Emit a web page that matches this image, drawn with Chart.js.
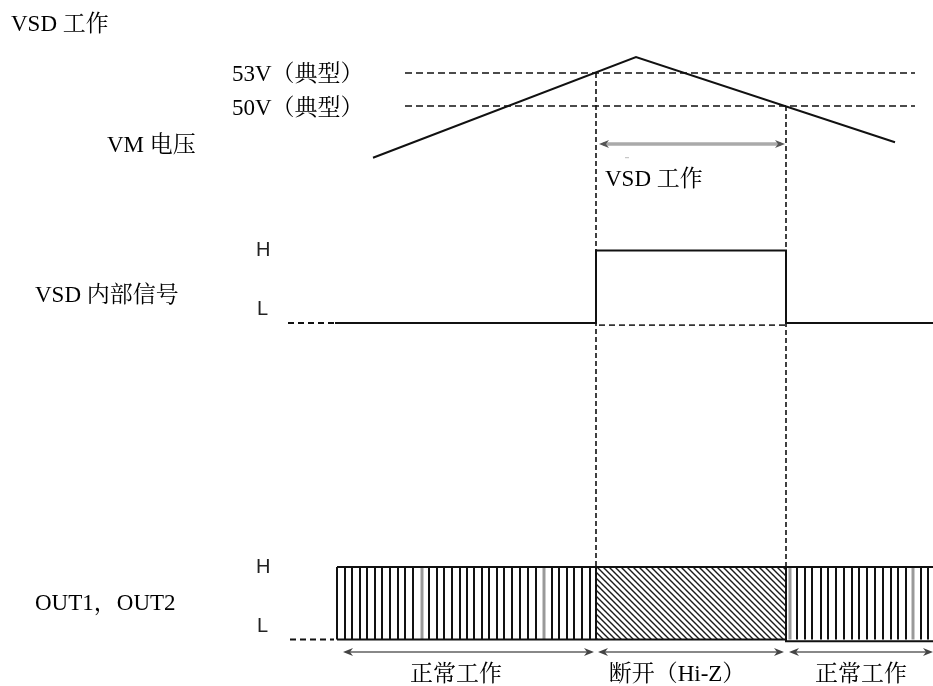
<!DOCTYPE html>
<html>
<head>
<meta charset="utf-8">
<script src="https://cdn.jsdelivr.net/npm/chart.js@4.4.1/dist/chart.umd.min.js"></script>
<style>
  html, body { margin: 0; padding: 0; background: #fff; }
  #c { display: block; }
</style>
</head>
<body>
<canvas id="c" width="933" height="686"></canvas>
<script>
// Key time points (horizontal axis units)
const T_OUT_START = 337;
const T_VSD_ON = 596;   // VM rises through 53V
const T_VSD_OFF = 786;  // VM falls through 50V
const T_END = 933;

// VM voltage ramp (V)
const vmTimes = [373, 636, 895];
const vmVolts = [45.3, 54.45, 46.7];
const thresholdVolts = [53, 50];
const thresholdSpan = [405, 915];

// VSD internal signal (0 = L, 1 = H)
const vsdTimes = [335, 596, 596, 786, 786, 933];
const vsdLevels = [0, 0, 1, 1, 0, 0];

// OUT1/OUT2 switching edges
const outEdgesBlack = [337, 345, 352, 360, 367, 375, 382, 390, 398, 405, 413, 429, 437, 444, 452, 460, 467,
  474, 482, 489, 497, 504, 512, 520, 528, 536, 552, 559, 567, 574, 582, 590, 596,
  786, 797, 805, 812, 821, 828, 836, 844, 852, 859, 867, 875, 883, 891, 898, 906, 921, 928];
const outEdgesGray = [422, 544, 790, 913];

// Texts
const sideLabels = ['VSD 工作', '53V（典型）', '50V（典型）', 'VM 电压', 'VSD 内部信号', 'OUT1，OUT2'];
const vsdSpanLabel = 'VSD 工作';
const phaseLabels = ['正常工作', '断开（Hi-Z）', '正常工作'];
const levelLabels = ['H', 'L'];

const SERIF = '23px "Liberation Serif", "Noto Serif CJK SC", "Noto Sans CJK SC", serif';
const SANS = '20px "Liberation Sans", Arial, sans-serif';

const canvas = document.getElementById('c');
const ctx0 = canvas.getContext('2d');

// Diagonal hatch for the Hi-Z region
function makeHatch() {
    const p = document.createElement('canvas');
    p.width = 6; p.height = 6;
    const c = p.getContext('2d');
    c.strokeStyle = '#1a1a1a';
    c.lineWidth = 1.4;
    c.beginPath();
    c.moveTo(-1, -1); c.lineTo(7, 7);
    c.moveTo(-1, 5); c.lineTo(1, 7);
    c.moveTo(5, -1); c.lineTo(7, 1);
    c.stroke();
    return ctx0.createPattern(p, 'repeat');
}

function edgePoints(list) {
    const pts = [];
    list.forEach(t => {
        pts.push({x: t, y: 0}, {x: t, y: 1}, {x: t, y: null});
    });
    return pts;
}

function drawArrow(ctx, x1, x2, y, lineColor, headColor, width) {
    ctx.setLineDash([]);
    ctx.strokeStyle = lineColor;
    ctx.lineWidth = width;
    ctx.beginPath();
    ctx.moveTo(x1 + 4, y);
    ctx.lineTo(x2 - 4, y);
    ctx.stroke();
    ctx.fillStyle = headColor;
    ctx.beginPath();
    ctx.moveTo(x1, y); ctx.lineTo(x1 + 10, y - 4); ctx.lineTo(x1 + 7, y); ctx.lineTo(x1 + 10, y + 4);
    ctx.closePath(); ctx.fill();
    ctx.beginPath();
    ctx.moveTo(x2, y); ctx.lineTo(x2 - 10, y - 4); ctx.lineTo(x2 - 7, y); ctx.lineTo(x2 - 10, y + 4);
    ctx.closePath(); ctx.fill();
}

const diagramDecor = {
    id: 'diagramDecor',
    beforeDatasetsDraw(chart) {
        const {ctx, scales: {x, yVM, yOut}} = chart;
        ctx.save();
        ctx.strokeStyle = '#111';
        ctx.lineWidth = 1.6;
        ctx.setLineDash([5, 3]);
        [[T_VSD_ON, thresholdVolts[0]], [T_VSD_OFF, thresholdVolts[1]]].forEach(([t, v]) => {
            const px = x.getPixelForValue(t);
            ctx.beginPath();
            ctx.moveTo(px, yVM.getPixelForValue(v));
            ctx.lineTo(px, yOut.getPixelForValue(1));
            ctx.stroke();
        });
        ctx.restore();
    },
    afterDraw(chart) {
        const {ctx, scales: {x, yVM, yLogic, yOut}} = chart;
        ctx.save();

        // arrows
        drawArrow(ctx, x.getPixelForValue(599), x.getPixelForValue(785), yVM.getPixelForValue(46.55), '#aaa', '#555', 3.5);
        const ay = yOut.getPixelForValue(-0.172);
        drawArrow(ctx, x.getPixelForValue(343), x.getPixelForValue(594), ay, '#888', '#444', 2);
        drawArrow(ctx, x.getPixelForValue(598), x.getPixelForValue(784), ay, '#888', '#444', 2);
        drawArrow(ctx, x.getPixelForValue(789), x.getPixelForValue(933), ay, '#888', '#444', 2);

        // small gray tick under the VSD arrow
        ctx.strokeStyle = '#bbb';
        ctx.lineWidth = 1;
        ctx.beginPath();
        ctx.moveTo(x.getPixelForValue(625), yVM.getPixelForValue(45.3));
        ctx.lineTo(x.getPixelForValue(629), yVM.getPixelForValue(45.3));
        ctx.stroke();

        // serif texts
        ctx.fillStyle = '#000';
        ctx.font = SERIF;
        ctx.textBaseline = 'middle';
        ctx.textAlign = 'left';
        const side = [
            [sideLabels[0], 11, yVM, 57.4],
            [sideLabels[1], 232, yVM, 52.82],
            [sideLabels[2], 232, yVM, 49.73],
            [sideLabels[3], 107, yVM, 46.41],
            [sideLabels[4], 35, yLogic, 0.372],
            [sideLabels[5], 35, yOut, 0.49],
            [vsdSpanLabel, 605, yVM, 43.27]
        ];
        side.forEach(([txt, tx, sc, v]) => ctx.fillText(txt, x.getPixelForValue(tx), sc.getPixelForValue(v)));

        ctx.textAlign = 'center';
        [456, 677, 861].forEach((cx, i) => {
            ctx.fillText(phaseLabels[i], x.getPixelForValue(cx), yOut.getPixelForValue(-0.49));
        });

        // H / L level marks
        ctx.font = SANS;
        ctx.fillStyle = '#222';
        ctx.textAlign = 'left';
        ctx.fillText(levelLabels[0], x.getPixelForValue(256), yLogic.getPixelForValue(1));
        ctx.fillText(levelLabels[1], x.getPixelForValue(257), yLogic.getPixelForValue(0.18));
        ctx.fillText(levelLabels[0], x.getPixelForValue(256), yOut.getPixelForValue(0.99));
        ctx.fillText(levelLabels[1], x.getPixelForValue(257), yOut.getPixelForValue(0.18));

        ctx.restore();
    }
};

const solid = (data, yAxisID, extra) => Object.assign({
    data, yAxisID, showLine: true, borderColor: '#111', borderWidth: 2,
    pointRadius: 0, fill: false, spanGaps: false
}, extra || {});

const datasets = [
    // VM ramp
    solid(vmTimes.map((t, i) => ({x: t, y: vmVolts[i]})), 'yVM', {borderWidth: 2}),
    // thresholds
    ...thresholdVolts.map(v => solid([{x: thresholdSpan[0], y: v}, {x: thresholdSpan[1], y: v}], 'yVM',
        {borderWidth: 1.6, borderDash: [7, 4]})),
    // VSD internal signal
    solid(vsdTimes.map((t, i) => ({x: t, y: vsdLevels[i]})), 'yLogic', {borderWidth: 2}),
    solid([{x: 288, y: 0}, {x: 334, y: 0}], 'yLogic', {borderWidth: 2, borderDash: [6, 4]}),
    solid([{x: 599, y: -0.03}, {x: T_VSD_OFF, y: -0.03}], 'yLogic', {borderWidth: 1.6, borderDash: [6, 4], borderColor: '#333'}),
    // OUT frame
    solid([{x: T_OUT_START, y: 1}, {x: T_END, y: 1}], 'yOut', {borderWidth: 2}),
    solid([{x: T_OUT_START, y: 0}, {x: T_VSD_OFF, y: 0}, {x: T_VSD_OFF, y: -0.025}, {x: T_END, y: -0.025}], 'yOut', {borderWidth: 2}),
    solid([{x: 290, y: 0}, {x: 334, y: 0}], 'yOut', {borderWidth: 2, borderDash: [6, 4]}),
    // switching edges
    solid(edgePoints(outEdgesBlack), 'yOut', {borderWidth: 2}),
    solid(edgePoints(outEdgesGray), 'yOut', {borderWidth: 3, borderColor: '#999'}),
    // Hi-Z hatch
    solid([{x: T_VSD_ON, y: 1}, {x: T_VSD_OFF, y: 1}], 'yOut', {borderWidth: 0, fill: 'origin', backgroundColor: makeHatch()})
];

new Chart(canvas, {
    type: 'scatter',
    data: {datasets},
    options: {
        responsive: false,
        animation: false,
        events: [],
        layout: {padding: 0},
        plugins: {legend: {display: false}, tooltip: {enabled: false}},
        scales: {
            x: {type: 'linear', min: 0, max: 933, display: false},
            yVM: {type: 'linear', position: 'left', min: -2.727, max: 59.636, display: false},
            yLogic: {type: 'linear', position: 'left', min: -5.007, max: 4.455, display: false},
            yOut: {type: 'linear', position: 'left', min: -0.641, max: 8.821, display: false}
        }
    },
    plugins: [diagramDecor]
});
</script>
</body>
</html>
